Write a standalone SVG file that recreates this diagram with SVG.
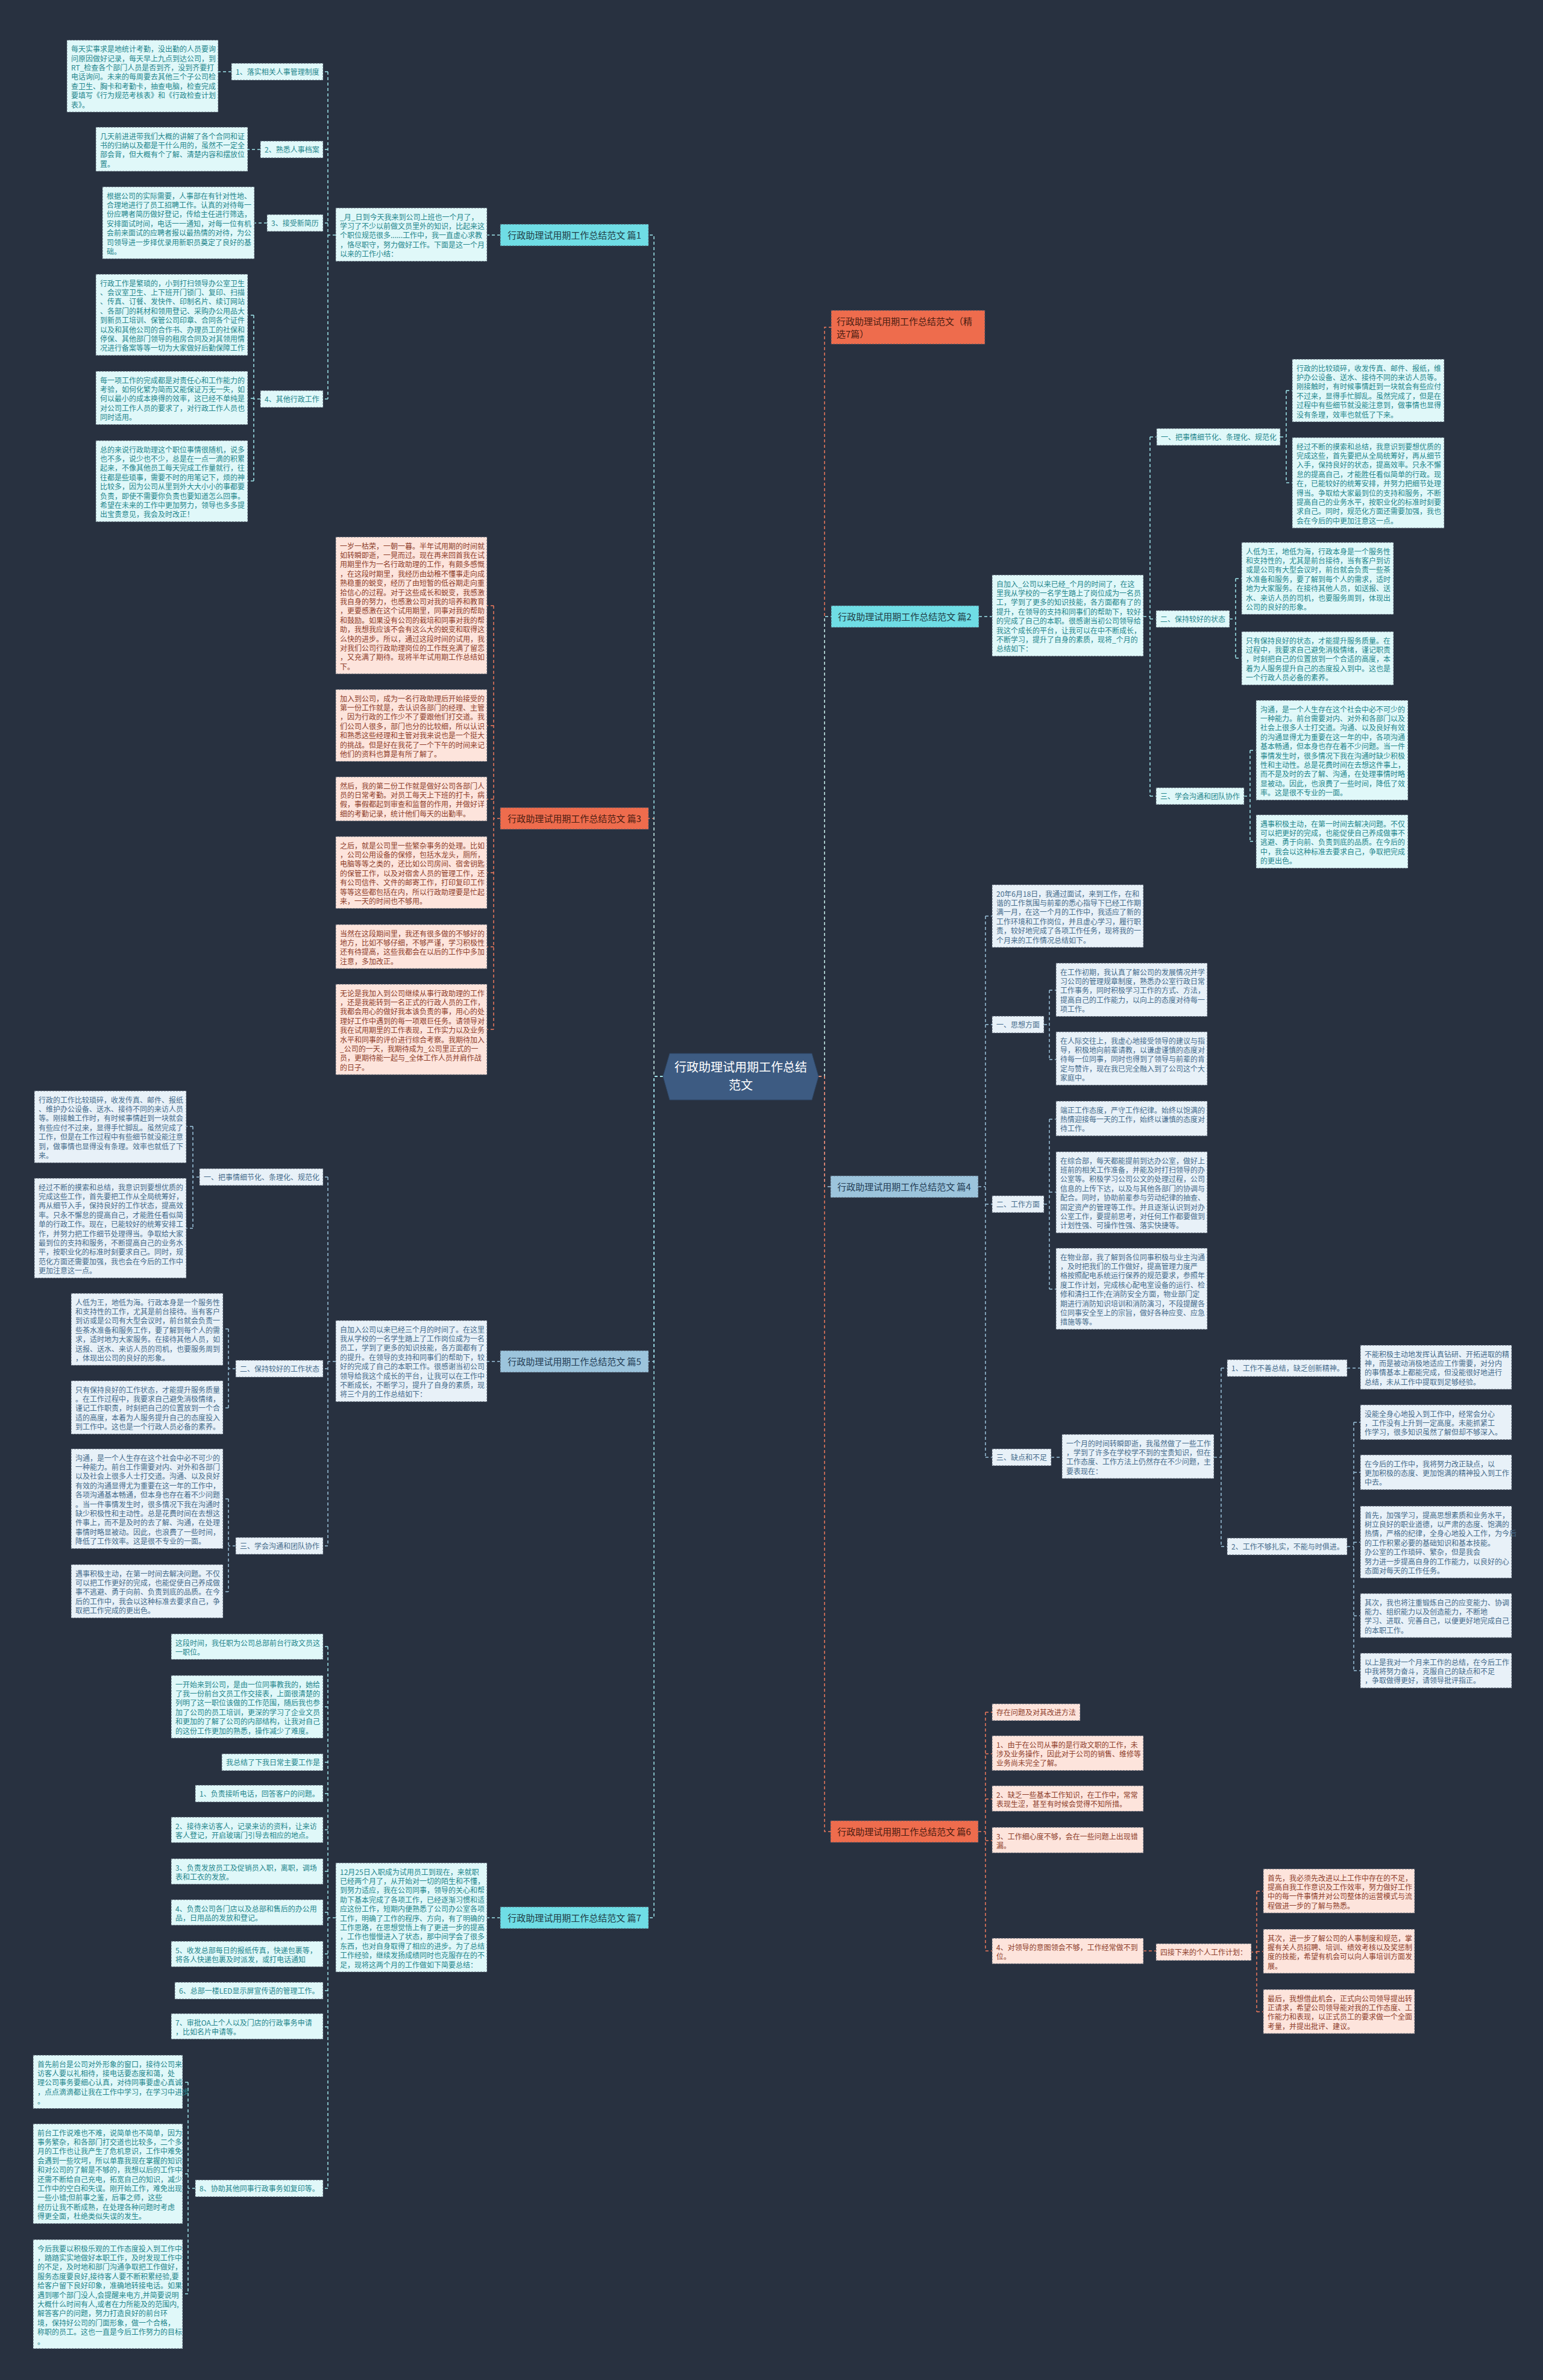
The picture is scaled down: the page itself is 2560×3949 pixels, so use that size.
<svg xmlns="http://www.w3.org/2000/svg" width="2560" height="3949" viewBox="0 0 2560 3949">
<style>
.t{font-family:"Noto Sans CJK SC","Noto Sans",sans-serif;font-size:12px}
.nt{font-family:"Noto Sans CJK SC","Noto Sans",sans-serif;font-size:15px}
.bx{stroke:#4d5766;stroke-width:1;stroke-dasharray:3 2}
.cb{fill:#e0f8f9}.ob{fill:#fde4dc}.sb{fill:#e8f1f8}
.ct{fill:#23868c}.ot{fill:#8e3d2a}.st{fill:#456b8b}
.cn{fill:#6fdde5}.on{fill:#ee6c4d}.sn{fill:#9cc4dc}
.cnt{fill:#1f3b44}.ont{fill:#4a1d12}.snt{fill:#243d55}
.l{fill:none;stroke-width:1.5;stroke-dasharray:5 4}
.lc{stroke:#9fe6ec}.lo{stroke:#ee7a5c}.ls{stroke:#9cc4dc}
</style>
<rect x="0" y="0" width="2560" height="3949" fill="#283140"/>

<g id="connectors">
<path class="l lo" d="M1100,1786 H1085 V1358 H1076 M830,1358 H819 M819,1005 V1708 M819,1005 H808 M819,1204 H808 M819,1326 H808 M819,1448 H808 M819,1571 H808 M819,1708 H808"/>
<path class="l ls" d="M1100,1786 H1085 V2259 H1076 M830,2259 H808 M557,2259 H544 M544,1953 V2565 M544,1953 H536 M544,2271 H536 M544,2565 H536 M331,1953 H320 M320,1869 V2038 M320,1869 H309 M320,2038 H309 M391,2271 H379 M379,2205 V2336 M379,2205 H370 M379,2336 H370 M391,2565 H379 M379,2487 V2641 M379,2487 H370 M379,2641 H370"/>
<path class="l lc" d="M1100,1786 H1085 V390 H1076 M830,390 H808 M557,390 H544 M544,119 V662 M544,119 H536 M544,248 H536 M544,370 H536 M544,662 H536 M384,119 H362 M432,248 H411 M443,370 H422 M432,662 H421 M421,523 V798 M421,523 H411 M421,661 H411 M421,798 H411"/>
<path class="l lc" d="M1100,1786 H1085 V3182 H1076 M830,3182 H808 M557,3182 H544 M544,2732 V3631 M544,2732 H536 M544,2832 H536 M544,2924 H536 M544,2976 H536 M544,3036 H536 M544,3105 H536 M544,3173 H536 M544,3242 H536 M544,3303 H536 M544,3363 H536 M544,3631 H536 M324,3631 H312 M312,3455 V3806 M312,3455 H303 M312,3607 H303 M312,3806 H303"/>
<path class="l lo" d="M1358,1786 H1368 V543 H1379"/>
<path class="l ls" d="M1358,1786 H1368 V1969 H1378 M1623,1969 H1635 M1635,1520 V2418 M1635,1520 H1646 M1635,1700 H1646 M1635,1998 H1646 M1635,2418 H1646 M1732,1700 H1741 M1741,1643 V1758 M1741,1643 H1752 M1741,1758 H1752 M1732,1998 H1741 M1741,1857 V2139 M1741,1857 H1752 M1741,1978 H1752 M1741,2139 H1752 M1744,2418 H1762 M2014,2418 H2026 M2026,2270 V2566 M2026,2270 H2036 M2026,2566 H2036 M2235,2270 H2257 M2235,2566 H2246 M2246,2360 V2772 M2246,2360 H2257 M2246,2443 H2257 M2246,2559 H2257 M2246,2681 H2257 M2246,2772 H2257"/>
<path class="l lc" d="M1358,1786 H1368 V1023 H1379 M1624,1023 H1646 M1897,1023 H1908 M1908,725 V1321 M1908,725 H1919 M1908,1027 H1918 M1908,1321 H1918 M2124,725 H2134 M2134,648 V801 M2134,648 H2144 M2134,801 H2144 M2040,1027 H2050 M2050,960 V1092 M2050,960 H2060 M2050,1092 H2060 M2064,1321 H2074 M2074,1245 V1396 M2074,1245 H2084 M2074,1396 H2084"/>
<path class="l lo" d="M1358,1786 H1368 V3039 H1378 M1623,3039 H1635 M1635,2841 V3237 M1635,2841 H1646 M1635,2910 H1646 M1635,2985 H1646 M1635,3054 H1646 M1635,3237 H1646 M1897,3237 H1918 M2074,3239 H2085 M2085,3138 V3338 M2085,3138 H2096 M2085,3238 H2096 M2085,3338 H2096"/>
</g>

<g id="center">
<polygon points="1111,1748 1347,1748 1358,1786 1347,1825 1111,1825 1100,1786" fill="#3d5b82" stroke="#2e4766" stroke-width="1"/>
<text x="1229" y="1778" text-anchor="middle" font-family="Noto Sans CJK SC, sans-serif" font-size="20" fill="#ffffff">行政助理试用期工作总结</text>
<text x="1229" y="1808" text-anchor="middle" font-family="Noto Sans CJK SC, sans-serif" font-size="20" fill="#ffffff">范文</text>
</g>

<g id="p1"><rect class="bx cn" x="830" y="372" width="246" height="36"/><text class="nt cnt" x="953" y="396" text-anchor="middle">行政助理试用期工作总结范文 篇1</text></g>
<g id="p1-intro"><rect class="bx cb" x="557" y="345" width="251" height="88.6"/><text class="t ct" x="564" y="364.6"><tspan x="564">_月_日到今天我来到公司上班也一个月了，</tspan><tspan x="564" dy="15.4">学习了不少以前做文员里外的知识，比起来这</tspan><tspan x="564" dy="15.4">个职位规范很多......工作中，我一直虚心求教</tspan><tspan x="564" dy="15.4">，恪尽职守，努力做好工作。下面是这一个月</tspan><tspan x="564" dy="15.4">以来的工作小结：</tspan></text></g>
<g id="p1-i1"><rect class="bx cb" x="384" y="105" width="152" height="28"/><text class="t ct" x="391" y="123.6">1、落实相关人事管理制度</text></g>
<g id="p1-i2"><rect class="bx cb" x="432" y="234" width="104" height="28"/><text class="t ct" x="439" y="252.6">2、熟悉人事档案</text></g>
<g id="p1-i3"><rect class="bx cb" x="443" y="356" width="93" height="28"/><text class="t ct" x="450" y="374.6">3、接受新简历</text></g>
<g id="p1-i4"><rect class="bx cb" x="432" y="648" width="104" height="28"/><text class="t ct" x="439" y="666.6">4、其他行政工作</text></g>
<g id="p1-l1"><rect class="bx cb" x="111" y="66.6" width="251" height="119.4"/><text class="t ct" x="118" y="86.2"><tspan x="118">每天实事求是地统计考勤，没出勤的人员要询</tspan><tspan x="118" dy="15.4">问原因做好记录，每天早上九点到达公司，到</tspan><tspan x="118" dy="15.4">RT_检查各个部门人员是否到齐，没到齐要打</tspan><tspan x="118" dy="15.4">电话询问。未来的每周要去其他三个子公司检</tspan><tspan x="118" dy="15.4">查卫生、胸卡和考勤卡，抽查电脑，检查完成</tspan><tspan x="118" dy="15.4">要填写《行为规范考核表》和《行政检查计划</tspan><tspan x="118" dy="15.4">表》。</tspan></text></g>
<g id="p1-l2"><rect class="bx cb" x="159" y="211" width="252" height="73.2"/><text class="t ct" x="166" y="230.6"><tspan x="166">几天前进进带我们大概的讲解了各个合同和证</tspan><tspan x="166" dy="15.4">书的归纳以及都是干什么用的，虽然不一定全</tspan><tspan x="166" dy="15.4">部会背，但大概有个了解、清楚内容和摆放位</tspan><tspan x="166" dy="15.4">置。</tspan></text></g>
<g id="p1-l3"><rect class="bx cb" x="170" y="310" width="252" height="119.4"/><text class="t ct" x="177" y="329.6"><tspan x="177">根据公司的实际需要，人事部在有针对性地、</tspan><tspan x="177" dy="15.4">合理地进行了员工招聘工作。认真的对待每一</tspan><tspan x="177" dy="15.4">份应聘者简历做好登记，传给主任进行筛选，</tspan><tspan x="177" dy="15.4">安排面试时间，电话一一通知，对每一位有机</tspan><tspan x="177" dy="15.4">会前来面试的应聘者报以最热情的对待，为公</tspan><tspan x="177" dy="15.4">司领导进一步择优录用新职员奠定了良好的基</tspan><tspan x="177" dy="15.4">础。</tspan></text></g>
<g id="p1-l4a"><rect class="bx cb" x="159" y="455" width="252" height="134.8"/><text class="t ct" x="166" y="474.6"><tspan x="166">行政工作是繁琐的，小到打扫领导办公室卫生</tspan><tspan x="166" dy="15.4">、会议室卫生、上下班开门锁门、复印、扫描</tspan><tspan x="166" dy="15.4">、传真、订餐、发快件、印制名片、续订网站</tspan><tspan x="166" dy="15.4">、各部门的耗材和领用登记、采购办公用品大</tspan><tspan x="166" dy="15.4">到新员工培训、保管公司印章、合同各个证件</tspan><tspan x="166" dy="15.4">以及和其他公司的合作书、办理员工的社保和</tspan><tspan x="166" dy="15.4">停保、其他部门领导的租房合同及对其领用情</tspan><tspan x="166" dy="15.4">况进行备案等等一切为大家做好后勤保障工作</tspan></text></g>
<g id="p1-l4b"><rect class="bx cb" x="159" y="616" width="252" height="88.6"/><text class="t ct" x="166" y="635.6"><tspan x="166">每一项工作的完成都是对责任心和工作能力的</tspan><tspan x="166" dy="15.4">考验，如何化繁为简而又能保证万无一失，如</tspan><tspan x="166" dy="15.4">何以最小的成本换得的效率，这已经不单纯是</tspan><tspan x="166" dy="15.4">对公司工作人员的要求了，对行政工作人员也</tspan><tspan x="166" dy="15.4">同时适用。</tspan></text></g>
<g id="p1-l4c"><rect class="bx cb" x="159" y="731" width="252" height="134.8"/><text class="t ct" x="166" y="750.6"><tspan x="166">总的来说行政助理这个职位事情很随机，说多</tspan><tspan x="166" dy="15.4">也不多，说少也不少，总是在一点一滴的积累</tspan><tspan x="166" dy="15.4">起来，不像其他员工每天完成工作量就行，往</tspan><tspan x="166" dy="15.4">往都是些琐事，需要不时的用笔记下，烦的神</tspan><tspan x="166" dy="15.4">比较多，因为公司从里到外大大小小的事都要</tspan><tspan x="166" dy="15.4">负责，即使不需要你负责也要知道怎么回事。</tspan><tspan x="166" dy="15.4">希望在未来的工作中更加努力，领导也多多提</tspan><tspan x="166" dy="15.4">出宝贵意见，我会及时改正！</tspan></text></g>

<g id="p3"><rect class="bx on" x="830" y="1340" width="246" height="36"/><text class="nt ont" x="953" y="1364" text-anchor="middle">行政助理试用期工作总结范文 篇3</text></g>
<g id="p3-a"><rect class="bx ob" x="557" y="891" width="251" height="227.2"/><text class="t ot" x="564" y="910.6"><tspan x="564">一岁一枯荣，一朝一暮。半年试用期的时间就</tspan><tspan x="564" dy="15.4">如转瞬即逝，一晃而过。现在再来回首我在试</tspan><tspan x="564" dy="15.4">用期里作为一名行政助理的工作，有颇多感慨</tspan><tspan x="564" dy="15.4">，在这段时期里，我经历由幼稚不懂事走向成</tspan><tspan x="564" dy="15.4">熟稳重的蜕变，经历了由短暂的低谷期走向重</tspan><tspan x="564" dy="15.4">拾信心的过程。对于这些成长和蜕变，我感激</tspan><tspan x="564" dy="15.4">我自身的努力，也感激公司对我的培养和教育</tspan><tspan x="564" dy="15.4">，更要感激在这个试用期里，同事对我的帮助</tspan><tspan x="564" dy="15.4">和鼓励。如果没有公司的栽培和同事对我的帮</tspan><tspan x="564" dy="15.4">助，我想我应该不会有这么大的蜕变和取得这</tspan><tspan x="564" dy="15.4">么快的进步。所以，通过这段时间的试用，我</tspan><tspan x="564" dy="15.4">对我们公司行政助理岗位的工作既充满了留恋</tspan><tspan x="564" dy="15.4">，又充满了期待。现将半年试用期工作总结如</tspan><tspan x="564" dy="15.4">下。</tspan></text></g>
<g id="p3-b"><rect class="bx ob" x="557" y="1144" width="251" height="119.4"/><text class="t ot" x="564" y="1163.6"><tspan x="564">加入到公司，成为一名行政助理后开始接受的</tspan><tspan x="564" dy="15.4">第一份工作就是，去认识各部门的经理、主管</tspan><tspan x="564" dy="15.4">，因为行政的工作少不了要跟他们打交道。我</tspan><tspan x="564" dy="15.4">们公司人很多，部门也分的比较细，所以认识</tspan><tspan x="564" dy="15.4">和熟悉这些经理和主管对我来说也是一个挺大</tspan><tspan x="564" dy="15.4">的挑战。但是好在我花了一个下午的时间来记</tspan><tspan x="564" dy="15.4">他们的资料也算是有所了解了。</tspan></text></g>
<g id="p3-c"><rect class="bx ob" x="557" y="1289" width="251" height="73.2"/><text class="t ot" x="564" y="1308.6"><tspan x="564">然后，我的第二份工作就是做好公司各部门人</tspan><tspan x="564" dy="15.4">员的日常考勤。对员工每天上下班的打卡，病</tspan><tspan x="564" dy="15.4">假，事假都起到审查和监督的作用，并做好详</tspan><tspan x="564" dy="15.4">细的考勤记录，统计他们每天的出勤率。</tspan></text></g>
<g id="p3-d"><rect class="bx ob" x="557" y="1388" width="251" height="119.4"/><text class="t ot" x="564" y="1407.6"><tspan x="564">之后，就是公司里一些繁杂事务的处理。比如</tspan><tspan x="564" dy="15.4">，公司公用设备的保修，包括水龙头，厕所，</tspan><tspan x="564" dy="15.4">电脑等等之类的，还比如公司房间、宿舍钥匙</tspan><tspan x="564" dy="15.4">的保管工作，以及对宿舍人员的管理工作，还</tspan><tspan x="564" dy="15.4">有公司信件、文件的邮寄工作，打印复印工作</tspan><tspan x="564" dy="15.4">等等这些都包括在内，所以行政助理要是忙起</tspan><tspan x="564" dy="15.4">来，一天的时间也不够用。</tspan></text></g>
<g id="p3-e"><rect class="bx ob" x="557" y="1534" width="251" height="73.2"/><text class="t ot" x="564" y="1553.6"><tspan x="564">当然在这段期间里，我还有很多做的不够好的</tspan><tspan x="564" dy="15.4">地方，比如不够仔细，不够严谨，学习积极性</tspan><tspan x="564" dy="15.4">还有待提高，这些我都会在以后的工作中多加</tspan><tspan x="564" dy="15.4">注意，多加改正。</tspan></text></g>
<g id="p3-f"><rect class="bx ob" x="557" y="1633" width="251" height="150.2"/><text class="t ot" x="564" y="1652.6"><tspan x="564">无论是我加入到公司继续从事行政助理的工作</tspan><tspan x="564" dy="15.4">，还是我能转到一名正式的行政人员的工作，</tspan><tspan x="564" dy="15.4">我都会用心的做好我本该负责的事，用心的处</tspan><tspan x="564" dy="15.4">理好工作中遇到的每一项艰巨任务。请领导对</tspan><tspan x="564" dy="15.4">我在试用期里的工作表现，工作实力以及业务</tspan><tspan x="564" dy="15.4">水平和同事的评价进行综合考察。我期待加入</tspan><tspan x="564" dy="15.4">_公司的一天，我期待成为_公司里正式的一</tspan><tspan x="564" dy="15.4">员，更期待能一起与_全体工作人员并肩作战</tspan><tspan x="564" dy="15.4">的日子。</tspan></text></g>

<g id="p5"><rect class="bx sn" x="830" y="2241" width="246" height="36"/><text class="nt snt" x="953" y="2265" text-anchor="middle">行政助理试用期工作总结范文 篇5</text></g>
<g id="p5-intro"><rect class="bx sb" x="557" y="2191" width="251" height="134.8"/><text class="t st" x="564" y="2210.6"><tspan x="564">自加入公司以来已经三个月的时间了。在这里</tspan><tspan x="564" dy="15.4">我从学校的一名学生踏上了工作岗位成为一名</tspan><tspan x="564" dy="15.4">员工，学到了更多的知识技能，各方面都有了</tspan><tspan x="564" dy="15.4">的提升。在领导的支持和同事们的帮助下，较</tspan><tspan x="564" dy="15.4">好的完成了自己的本职工作。很感谢当初公司</tspan><tspan x="564" dy="15.4">领导给我这个成长的平台，让我可以在工作中</tspan><tspan x="564" dy="15.4">不断成长，不断学习，提升了自身的素质，现</tspan><tspan x="564" dy="15.4">将三个月的工作总结如下：</tspan></text></g>
<g id="p5-i1"><rect class="bx sb" x="331" y="1939" width="205" height="28"/><text class="t st" x="338" y="1957.6">一、把事情细节化、条理化、规范化</text></g>
<g id="p5-i2"><rect class="bx sb" x="391" y="2257" width="145" height="28"/><text class="t st" x="398" y="2275.6">二、保持较好的工作状态</text></g>
<g id="p5-i3"><rect class="bx sb" x="391" y="2551" width="145" height="28"/><text class="t st" x="398" y="2569.6">三、学会沟通和团队协作</text></g>
<g id="p5-1a"><rect class="bx sb" x="57" y="1810" width="252" height="119.4"/><text class="t st" x="64" y="1829.6"><tspan x="64">行政的工作比较琐碎，收发传真、邮件、报纸</tspan><tspan x="64" dy="15.4">、维护办公设备、送水、接待不同的来访人员</tspan><tspan x="64" dy="15.4">等。刚接触工作时，有时候事情赶到一块就会</tspan><tspan x="64" dy="15.4">有些应付不过来，显得手忙脚乱。虽然完成了</tspan><tspan x="64" dy="15.4">工作，但是在工作过程中有些细节就没能注意</tspan><tspan x="64" dy="15.4">到，做事情也显得没有条理。效率也就低了下</tspan><tspan x="64" dy="15.4">来。</tspan></text></g>
<g id="p5-1b"><rect class="bx sb" x="57" y="1955" width="252" height="165.6"/><text class="t st" x="64" y="1974.6"><tspan x="64">经过不断的摸索和总结，我意识到要想优质的</tspan><tspan x="64" dy="15.4">完成这些工作，首先要把工作从全局统筹好，</tspan><tspan x="64" dy="15.4">再从细节入手，保持良好的工作状态，提高效</tspan><tspan x="64" dy="15.4">率。只永不懈怠的提高自己，才能胜任看似简</tspan><tspan x="64" dy="15.4">单的行政工作。现在，已能较好的统筹安排工</tspan><tspan x="64" dy="15.4">作，并努力把工作细节处理得当。争取给大家</tspan><tspan x="64" dy="15.4">最到位的支持和服务，不断提高自己的业务水</tspan><tspan x="64" dy="15.4">平，按职业化的标准时刻要求自己。同时，规</tspan><tspan x="64" dy="15.4">范化方面还需要加强，我也会在今后的工作中</tspan><tspan x="64" dy="15.4">更加注意这一点。</tspan></text></g>
<g id="p5-2a"><rect class="bx sb" x="118" y="2146" width="252" height="119.4"/><text class="t st" x="125" y="2165.6"><tspan x="125">人低为王，地低为海。行政本身是一个服务性</tspan><tspan x="125" dy="15.4">和支持性的工作，尤其是前台接待。当有客户</tspan><tspan x="125" dy="15.4">到访或是公司有大型会议时，前台就会负责一</tspan><tspan x="125" dy="15.4">些茶水准备和服务工作，要了解到每个人的需</tspan><tspan x="125" dy="15.4">求，适时地为大家服务。在接待其他人员，如</tspan><tspan x="125" dy="15.4">送报、送水、来访人员的司机，也要服务周到</tspan><tspan x="125" dy="15.4">，体现出公司的良好的形象。</tspan></text></g>
<g id="p5-2b"><rect class="bx sb" x="118" y="2291" width="252" height="88.6"/><text class="t st" x="125" y="2310.6"><tspan x="125">只有保持良好的工作状态，才能提升服务质量</tspan><tspan x="125" dy="15.4">。在工作过程中，我要求自己避免消极情绪，</tspan><tspan x="125" dy="15.4">谨记工作职责，时刻把自己的位置放到一个合</tspan><tspan x="125" dy="15.4">适的高度，本着为人服务提升自己的态度投入</tspan><tspan x="125" dy="15.4">到工作中。这也是一个行政人员必备的素养。</tspan></text></g>
<g id="p5-3a"><rect class="bx sb" x="118" y="2404" width="252" height="165.6"/><text class="t st" x="125" y="2423.6"><tspan x="125">沟通，是一个人生存在这个社会中必不可少的</tspan><tspan x="125" dy="15.4">一种能力。前台工作需要对内、对外和各部门</tspan><tspan x="125" dy="15.4">以及社会上很多人士打交道。沟通、以及良好</tspan><tspan x="125" dy="15.4">有效的沟通显得尤为重要在这一年的工作中，</tspan><tspan x="125" dy="15.4">各项沟通基本畅通，但本身也存在着不少问题</tspan><tspan x="125" dy="15.4">。当一件事情发生时，很多情况下我在沟通时</tspan><tspan x="125" dy="15.4">缺少积极性和主动性。总是花费时间在去想这</tspan><tspan x="125" dy="15.4">件事上，而不是及时的去了解、沟通，在处理</tspan><tspan x="125" dy="15.4">事情时略显被动。因此，也浪费了一些时间，</tspan><tspan x="125" dy="15.4">降低了工作效率。这是很不专业的一面。</tspan></text></g>
<g id="p5-3b"><rect class="bx sb" x="118" y="2596" width="252" height="88.6"/><text class="t st" x="125" y="2615.6"><tspan x="125">遇事积极主动，在第一时间去解决问题。不仅</tspan><tspan x="125" dy="15.4">可以把工作更好的完成，也能促使自己养成做</tspan><tspan x="125" dy="15.4">事不逃避、勇于向前、负责到底的品质。在今</tspan><tspan x="125" dy="15.4">后的工作中，我会以这种标准去要求自己，争</tspan><tspan x="125" dy="15.4">取把工作完成的更出色。</tspan></text></g>

<g id="p7"><rect class="bx cn" x="830" y="3164" width="246" height="36"/><text class="nt cnt" x="953" y="3188" text-anchor="middle">行政助理试用期工作总结范文 篇7</text></g>
<g id="p7-intro"><rect class="bx cb" x="557" y="3091" width="251" height="181"/><text class="t ct" x="564" y="3110.6"><tspan x="564">12月25日入职成为试用员工到现在，来就职</tspan><tspan x="564" dy="15.4">已经两个月了，从开始对一切的陌生和不懂，</tspan><tspan x="564" dy="15.4">到努力适应，我在公司同事，领导的关心和帮</tspan><tspan x="564" dy="15.4">助下基本完成了各项工作，已经逐渐习惯和适</tspan><tspan x="564" dy="15.4">应这份工作，短期内便熟悉了公司办公室各项</tspan><tspan x="564" dy="15.4">工作，明确了工作的程序、方向，有了明确的</tspan><tspan x="564" dy="15.4">工作思路，在思想觉悟上有了更进一步的提高</tspan><tspan x="564" dy="15.4">，工作也慢慢进入了状态，那中间学会了很多</tspan><tspan x="564" dy="15.4">东西，也对自身取得了相应的进步。为了总结</tspan><tspan x="564" dy="15.4">工作经验，继续发扬成绩同时也克服存在的不</tspan><tspan x="564" dy="15.4">足，现将这两个月的工作做如下简要总结：</tspan></text></g>
<g id="p7-i1"><rect class="bx cb" x="284" y="2711" width="252" height="42.4"/><text class="t ct" x="291" y="2730.6"><tspan x="291">这段时间，我任职为公司总部前台行政文员这</tspan><tspan x="291" dy="15.4">一职位。</tspan></text></g>
<g id="p7-i2"><rect class="bx cb" x="284" y="2780" width="252" height="104"/><text class="t ct" x="291" y="2799.6"><tspan x="291">一开始来到公司，是由一位同事教我的，她给</tspan><tspan x="291" dy="15.4">了我一份前台文员工作交接表，上面很清楚的</tspan><tspan x="291" dy="15.4">列明了这一职位该做的工作范围，随后我也参</tspan><tspan x="291" dy="15.4">加了公司的员工培训，更深的学习了企业文员</tspan><tspan x="291" dy="15.4">和更加的了解了公司的内部结构，让我对自己</tspan><tspan x="291" dy="15.4">的这份工作更加的熟悉，操作减少了难度。</tspan></text></g>
<g id="p7-i3"><rect class="bx cb" x="368" y="2910" width="168" height="28"/><text class="t ct" x="375" y="2928.6">我总结了下我日常主要工作是</text></g>
<g id="p7-i4"><rect class="bx cb" x="324" y="2962" width="212" height="28"/><text class="t ct" x="331" y="2980.6">1、负责接听电话，回答客户的问题。</text></g>
<g id="p7-i5"><rect class="bx cb" x="284" y="3015" width="252" height="42.4"/><text class="t ct" x="291" y="3034.6"><tspan x="291">2、接待来访客人，记录来访的资料，让来访</tspan><tspan x="291" dy="15.4">客人登记，开启玻璃门引导去相应的地点。</tspan></text></g>
<g id="p7-i6"><rect class="bx cb" x="284" y="3084" width="252" height="42.4"/><text class="t ct" x="291" y="3103.6"><tspan x="291">3、负责发放员工及促销员入职，离职，调场</tspan><tspan x="291" dy="15.4">表和工衣的发放。</tspan></text></g>
<g id="p7-i7"><rect class="bx cb" x="284" y="3152" width="252" height="42.4"/><text class="t ct" x="291" y="3171.6"><tspan x="291">4、负责公司各门店以及总部和售后的办公用</tspan><tspan x="291" dy="15.4">品，日用品的发放和登记。</tspan></text></g>
<g id="p7-i8"><rect class="bx cb" x="284" y="3221" width="252" height="42.4"/><text class="t ct" x="291" y="3240.6"><tspan x="291">5、收发总部每日的报纸传真，快递包裹等，</tspan><tspan x="291" dy="15.4">将各人快递包裹及时派发，或打电话通知</tspan></text></g>
<g id="p7-i9"><rect class="bx cb" x="290" y="3289" width="246" height="28"/><text class="t ct" x="297" y="3307.6">6、总部一楼LED显示屏宣传语的管理工作。</text></g>
<g id="p7-i10"><rect class="bx cb" x="284" y="3341" width="252" height="42.4"/><text class="t ct" x="291" y="3360.6"><tspan x="291">7、审批OA上个人以及门店的行政事务申请</tspan><tspan x="291" dy="15.4">，比如名片申请等。</tspan></text></g>
<g id="p7-i11"><rect class="bx cb" x="324" y="3617" width="212" height="28"/><text class="t ct" x="331" y="3635.6">8、协助其他同事行政事务如复印等。</text></g>
<g id="p7-l1"><rect class="bx cb" x="55" y="3410" width="248" height="88.6"/><text class="t ct" x="62" y="3429.6"><tspan x="62">首先前台是公司对外形象的窗口，接待公司来</tspan><tspan x="62" dy="15.4">访客人要以礼相待，接电话要态度和蔼，处</tspan><tspan x="62" dy="15.4">理公司事务要细心认真，对待同事要虚心真诚</tspan><tspan x="62" dy="15.4">，点点滴滴都让我在工作中学习，在学习中进步</tspan><tspan x="62" dy="15.4">。</tspan></text></g>
<g id="p7-l2"><rect class="bx cb" x="55" y="3524" width="248" height="165.6"/><text class="t ct" x="62" y="3543.6"><tspan x="62">前台工作说难也不难，说简单也不简单，因为</tspan><tspan x="62" dy="15.4">事务繁杂，和各部门打交道也比较多，二个多</tspan><tspan x="62" dy="15.4">月的工作也让我产生了危机意识，工作中难免</tspan><tspan x="62" dy="15.4">会遇到一些坎坷，所以单靠我现在掌握的知识</tspan><tspan x="62" dy="15.4">和对公司的了解是不够的，我想以后的工作中</tspan><tspan x="62" dy="15.4">还需不断给自己充电，拓宽自己的知识，减少</tspan><tspan x="62" dy="15.4">工作中的空白和失误。刚开始工作，难免出现</tspan><tspan x="62" dy="15.4">一些小错;但前事之鉴，后事之师，这些</tspan><tspan x="62" dy="15.4">经历让我不断成熟，在处理各种问题时考虑</tspan><tspan x="62" dy="15.4">得更全面，杜绝类似失误的发生。</tspan></text></g>
<g id="p7-l3"><rect class="bx cb" x="55" y="3716" width="248" height="181"/><text class="t ct" x="62" y="3735.6"><tspan x="62">今后我要以积极乐观的工作态度投入到工作中</tspan><tspan x="62" dy="15.4">，踏踏实实地做好本职工作，及时发现工作中</tspan><tspan x="62" dy="15.4">的不足，及时地和部门沟通争取把工作做好，</tspan><tspan x="62" dy="15.4">服务态度要良好,接待客人要不断积累经验,要</tspan><tspan x="62" dy="15.4">给客户留下良好印象，准确地转接电话。如果</tspan><tspan x="62" dy="15.4">遇到哪个部门没人,会提醒来电方,并简要说明</tspan><tspan x="62" dy="15.4">大概什么时间有人,或者在力所能及的范围内,</tspan><tspan x="62" dy="15.4">解答客户的问题，努力打造良好的前台环</tspan><tspan x="62" dy="15.4">境，保持好公司的门面形象，做一个合格，</tspan><tspan x="62" dy="15.4">称职的员工。这也一直是今后工作努力的目标</tspan><tspan x="62" dy="15.4">。</tspan></text></g>

<g id="p0"><rect class="bx on" x="1379" y="515" width="255" height="56"/><text class="nt ont" x="1388" y="539"><tspan x="1388">行政助理试用期工作总结范文（精</tspan><tspan x="1388" dy="21">选7篇）</tspan></text></g>

<g id="p2"><rect class="bx cn" x="1379" y="1005" width="245" height="36"/><text class="nt cnt" x="1501" y="1029" text-anchor="middle">行政助理试用期工作总结范文 篇2</text></g>
<g id="p2-intro"><rect class="bx cb" x="1646" y="954" width="251" height="134.8"/><text class="t ct" x="1653" y="973.6"><tspan x="1653">自加入_公司以来已经_个月的时间了，在这</tspan><tspan x="1653" dy="15.4">里我从学校的一名学生踏上了岗位成为一名员</tspan><tspan x="1653" dy="15.4">工，学到了更多的知识技能，各方面都有了的</tspan><tspan x="1653" dy="15.4">提升，在领导的支持和同事们的帮助下，较好</tspan><tspan x="1653" dy="15.4">的完成了自己的本职。很感谢当初公司领导给</tspan><tspan x="1653" dy="15.4">我这个成长的平台，让我可以在中不断成长，</tspan><tspan x="1653" dy="15.4">不断学习，提升了自身的素质，现将_个月的</tspan><tspan x="1653" dy="15.4">总结如下：</tspan></text></g>
<g id="p2-i1"><rect class="bx cb" x="1919" y="711" width="205" height="28"/><text class="t ct" x="1926" y="729.6">一、把事情细节化、条理化、规范化</text></g>
<g id="p2-i2"><rect class="bx cb" x="1918" y="1013" width="122" height="28"/><text class="t ct" x="1925" y="1031.6">二、保持较好的状态</text></g>
<g id="p2-i3"><rect class="bx cb" x="1918" y="1307" width="146" height="28"/><text class="t ct" x="1925" y="1325.6">三、学会沟通和团队协作</text></g>
<g id="p2-1a"><rect class="bx cb" x="2144" y="596" width="252" height="104"/><text class="t ct" x="2151" y="615.6"><tspan x="2151">行政的比较琐碎，收发传真、邮件、报纸，维</tspan><tspan x="2151" dy="15.4">护办公设备、送水、接待不同的来访人员等。</tspan><tspan x="2151" dy="15.4">刚接触时，有时候事情赶到一块就会有些应付</tspan><tspan x="2151" dy="15.4">不过来，显得手忙脚乱。虽然完成了，但是在</tspan><tspan x="2151" dy="15.4">过程中有些细节就没能注意到，做事情也显得</tspan><tspan x="2151" dy="15.4">没有条理，效率也就低了下来。</tspan></text></g>
<g id="p2-1b"><rect class="bx cb" x="2144" y="726" width="252" height="150.2"/><text class="t ct" x="2151" y="745.6"><tspan x="2151">经过不断的摸索和总结，我意识到要想优质的</tspan><tspan x="2151" dy="15.4">完成这些，首先要把从全局统筹好，再从细节</tspan><tspan x="2151" dy="15.4">入手，保持良好的状态，提高效率。只永不懈</tspan><tspan x="2151" dy="15.4">怠的提高自己，才能胜任看似简单的行政。现</tspan><tspan x="2151" dy="15.4">在，已能较好的统筹安排，并努力把细节处理</tspan><tspan x="2151" dy="15.4">得当。争取给大家最到位的支持和服务，不断</tspan><tspan x="2151" dy="15.4">提高自己的业务水平，按职业化的标准时刻要</tspan><tspan x="2151" dy="15.4">求自己。同时，规范化方面还需要加强，我也</tspan><tspan x="2151" dy="15.4">会在今后的中更加注意这一点。</tspan></text></g>
<g id="p2-2a"><rect class="bx cb" x="2060" y="900" width="252" height="119.4"/><text class="t ct" x="2067" y="919.6"><tspan x="2067">人低为王，地低为海，行政本身是一个服务性</tspan><tspan x="2067" dy="15.4">和支持性的，尤其是前台接待，当有客户到访</tspan><tspan x="2067" dy="15.4">或是公司有大型会议时，前台就会负责一些茶</tspan><tspan x="2067" dy="15.4">水准备和服务，要了解到每个人的需求，适时</tspan><tspan x="2067" dy="15.4">地为大家服务。在接待其他人员，如送报、送</tspan><tspan x="2067" dy="15.4">水、来访人员的司机，也要服务周到，体现出</tspan><tspan x="2067" dy="15.4">公司的良好的形象。</tspan></text></g>
<g id="p2-2b"><rect class="bx cb" x="2060" y="1048" width="252" height="88.6"/><text class="t ct" x="2067" y="1067.6"><tspan x="2067">只有保持良好的状态，才能提升服务质量。在</tspan><tspan x="2067" dy="15.4">过程中，我要求自己避免消极情绪，谨记职责</tspan><tspan x="2067" dy="15.4">，时刻把自己的位置放到一个合适的高度，本</tspan><tspan x="2067" dy="15.4">着为人服务提升自己的态度投入到中。这也是</tspan><tspan x="2067" dy="15.4">一个行政人员必备的素养。</tspan></text></g>
<g id="p2-3a"><rect class="bx cb" x="2084" y="1162" width="252" height="165.6"/><text class="t ct" x="2091" y="1181.6"><tspan x="2091">沟通，是一个人生存在这个社会中必不可少的</tspan><tspan x="2091" dy="15.4">一种能力。前台需要对内、对外和各部门以及</tspan><tspan x="2091" dy="15.4">社会上很多人士打交道。沟通、以及良好有效</tspan><tspan x="2091" dy="15.4">的沟通显得尤为重要在这一年的中，各项沟通</tspan><tspan x="2091" dy="15.4">基本畅通，但本身也存在着不少问题。当一件</tspan><tspan x="2091" dy="15.4">事情发生时，很多情况下我在沟通时缺少积极</tspan><tspan x="2091" dy="15.4">性和主动性。总是花费时间在去想这件事上，</tspan><tspan x="2091" dy="15.4">而不是及时的去了解、沟通，在处理事情时略</tspan><tspan x="2091" dy="15.4">显被动。因此，也浪费了一些时间，降低了效</tspan><tspan x="2091" dy="15.4">率。这是很不专业的一面。</tspan></text></g>
<g id="p2-3b"><rect class="bx cb" x="2084" y="1352" width="252" height="88.6"/><text class="t ct" x="2091" y="1371.6"><tspan x="2091">遇事积极主动，在第一时间去解决问题。不仅</tspan><tspan x="2091" dy="15.4">可以把更好的完成，也能促使自己养成做事不</tspan><tspan x="2091" dy="15.4">逃避、勇于向前、负责到底的品质。在今后的</tspan><tspan x="2091" dy="15.4">中，我会以这种标准去要求自己，争取把完成</tspan><tspan x="2091" dy="15.4">的更出色。</tspan></text></g>

<g id="p4"><rect class="bx sn" x="1378" y="1951" width="245" height="36"/><text class="nt snt" x="1500" y="1975" text-anchor="middle">行政助理试用期工作总结范文 篇4</text></g>
<g id="p4-intro"><rect class="bx sb" x="1646" y="1468" width="251" height="104"/><text class="t st" x="1653" y="1487.6"><tspan x="1653">20年6月18日，我通过面试，来到工作，在和</tspan><tspan x="1653" dy="15.4">谐的工作氛围与前辈的悉心指导下已经工作期</tspan><tspan x="1653" dy="15.4">满一月，在这一个月的工作中，我适应了新的</tspan><tspan x="1653" dy="15.4">工作环境和工作岗位，并且虚心学习，履行职</tspan><tspan x="1653" dy="15.4">责，较好地完成了各项工作任务，现将我的一</tspan><tspan x="1653" dy="15.4">个月来的工作情况总结如下。</tspan></text></g>
<g id="p4-i1"><rect class="bx sb" x="1646" y="1686" width="86" height="28"/><text class="t st" x="1653" y="1704.6">一、思想方面</text></g>
<g id="p4-i2"><rect class="bx sb" x="1646" y="1984" width="86" height="28"/><text class="t st" x="1653" y="2002.6">二、工作方面</text></g>
<g id="p4-i3"><rect class="bx sb" x="1646" y="2404" width="98" height="28"/><text class="t st" x="1653" y="2422.6">三、缺点和不足</text></g>
<g id="p4-1a"><rect class="bx sb" x="1752" y="1598" width="251" height="88.6"/><text class="t st" x="1759" y="1617.6"><tspan x="1759">在工作初期，我认真了解公司的发展情况并学</tspan><tspan x="1759" dy="15.4">习公司的管理规章制度，熟悉办公室行政日常</tspan><tspan x="1759" dy="15.4">工作事务，同时积极学习工作的方式、方法，</tspan><tspan x="1759" dy="15.4">提高自己的工作能力，以向上的态度对待每一</tspan><tspan x="1759" dy="15.4">项工作。</tspan></text></g>
<g id="p4-1b"><rect class="bx sb" x="1752" y="1712" width="251" height="88.6"/><text class="t st" x="1759" y="1731.6"><tspan x="1759">在人际交往上，我虚心地接受领导的建议与指</tspan><tspan x="1759" dy="15.4">导，积极地向前辈请教，以谦虚谨慎的态度对</tspan><tspan x="1759" dy="15.4">待每一位同事，同时也得到了领导与前辈的肯</tspan><tspan x="1759" dy="15.4">定与赞许，现在我已完全融入到了公司这个大</tspan><tspan x="1759" dy="15.4">家庭中。</tspan></text></g>
<g id="p4-2a"><rect class="bx sb" x="1752" y="1827" width="251" height="57.8"/><text class="t st" x="1759" y="1846.6"><tspan x="1759">端正工作态度，严守工作纪律。始终以饱满的</tspan><tspan x="1759" dy="15.4">热情迎接每一天的工作，始终以谦慎的态度对</tspan><tspan x="1759" dy="15.4">待工作。</tspan></text></g>
<g id="p4-2b"><rect class="bx sb" x="1752" y="1911" width="251" height="134.8"/><text class="t st" x="1759" y="1930.6"><tspan x="1759">在综合部，每天都能提前到达办公室，做好上</tspan><tspan x="1759" dy="15.4">班前的相关工作准备，并能及时打扫领导的办</tspan><tspan x="1759" dy="15.4">公室等。积极学习公司公文的处理过程，公司</tspan><tspan x="1759" dy="15.4">信息的上传下达，以及与其他各部门的协调与</tspan><tspan x="1759" dy="15.4">配合。同时，协助前辈参与劳动纪律的抽查、</tspan><tspan x="1759" dy="15.4">固定资产的管理等工作。并且逐渐认识到对办</tspan><tspan x="1759" dy="15.4">公室工作，要提前思考，对任何工作都要做到</tspan><tspan x="1759" dy="15.4">计划性强、可操作性强、落实快捷等。</tspan></text></g>
<g id="p4-2c"><rect class="bx sb" x="1752" y="2071" width="251" height="134.8"/><text class="t st" x="1759" y="2090.6"><tspan x="1759">在物业部，我了解到各位同事积极与业主沟通</tspan><tspan x="1759" dy="15.4">，及时把我们的工作做好，提高管理力度严</tspan><tspan x="1759" dy="15.4">格按照配电系统运行保养的规范要求，参照年</tspan><tspan x="1759" dy="15.4">度工作计划，完成核心配电室设备的运行、检</tspan><tspan x="1759" dy="15.4">修和清扫工作;在消防安全方面，物业部门定</tspan><tspan x="1759" dy="15.4">期进行消防知识培训和消防演习，不段提醒各</tspan><tspan x="1759" dy="15.4">位同事安全至上的宗旨，做好各种应变、应急</tspan><tspan x="1759" dy="15.4">措施等等。</tspan></text></g>
<g id="p4-3intro"><rect class="bx sb" x="1762" y="2380" width="252" height="73.2"/><text class="t st" x="1769" y="2399.6"><tspan x="1769">一个月的时间转瞬即逝，我虽然做了一些工作</tspan><tspan x="1769" dy="15.4">，学到了许多在学校学不到的宝贵知识，但在</tspan><tspan x="1769" dy="15.4">工作态度、工作方法上仍然存在不少问题，主</tspan><tspan x="1769" dy="15.4">要表现在：</tspan></text></g>
<g id="p4-s1"><rect class="bx sb" x="2036" y="2256" width="199" height="28"/><text class="t st" x="2043" y="2274.6">1、工作不善总结，缺乏创新精神。</text></g>
<g id="p4-s2"><rect class="bx sb" x="2036" y="2552" width="199" height="28"/><text class="t st" x="2043" y="2570.6">2、工作不够扎实，不能与时俱进。</text></g>
<g id="p4-s1a"><rect class="bx sb" x="2257" y="2232" width="251" height="73.2"/><text class="t st" x="2264" y="2251.6"><tspan x="2264">不能积极主动地发挥认真钻研、开拓进取的精</tspan><tspan x="2264" dy="15.4">神，而是被动消极地适应工作需要，对分内</tspan><tspan x="2264" dy="15.4">的事情基本上都能完成，但没能很好地进行</tspan><tspan x="2264" dy="15.4">总结，未从工作中提取到足够经验。</tspan></text></g>
<g id="p4-s2a"><rect class="bx sb" x="2257" y="2331" width="251" height="57.8"/><text class="t st" x="2264" y="2350.6"><tspan x="2264">没能全身心地投入到工作中，经常会分心</tspan><tspan x="2264" dy="15.4">，工作没有上升到一定高度。未能抓紧工</tspan><tspan x="2264" dy="15.4">作学习，很多知识虽然了解但却不够深入。</tspan></text></g>
<g id="p4-s2b"><rect class="bx sb" x="2257" y="2414" width="251" height="57.8"/><text class="t st" x="2264" y="2433.6"><tspan x="2264">在今后的工作中，我将努力改正缺点，以</tspan><tspan x="2264" dy="15.4">更加积极的态度、更加饱满的精神投入到工作</tspan><tspan x="2264" dy="15.4">中去。</tspan></text></g>
<g id="p4-s2c"><rect class="bx sb" x="2257" y="2499" width="251" height="119.4"/><text class="t st" x="2264" y="2518.6"><tspan x="2264">首先，加强学习，提高思想素质和业务水平，</tspan><tspan x="2264" dy="15.4">树立良好的职业道德，以严肃的态度、饱满的</tspan><tspan x="2264" dy="15.4">热情，严格的纪律，全身心地投入工作，为今后</tspan><tspan x="2264" dy="15.4">的工作积累必要的基础知识和基本技能。</tspan><tspan x="2264" dy="15.4">办公室的工作琐碎、繁杂，但是我会</tspan><tspan x="2264" dy="15.4">努力进一步提高自身的工作能力，以良好的心</tspan><tspan x="2264" dy="15.4">态面对每天的工作任务。</tspan></text></g>
<g id="p4-s2d"><rect class="bx sb" x="2257" y="2644" width="251" height="73.2"/><text class="t st" x="2264" y="2663.6"><tspan x="2264">其次，我也将注重锻炼自己的应变能力、协调</tspan><tspan x="2264" dy="15.4">能力、组织能力以及创造能力，不断地</tspan><tspan x="2264" dy="15.4">学习、进取、完善自己，以便更好地完成自己</tspan><tspan x="2264" dy="15.4">的本职工作。</tspan></text></g>
<g id="p4-s2e"><rect class="bx sb" x="2257" y="2743" width="251" height="57.8"/><text class="t st" x="2264" y="2762.6"><tspan x="2264">以上是我对一个月来工作的总结，在今后工作</tspan><tspan x="2264" dy="15.4">中我将努力奋斗，克服自己的缺点和不足</tspan><tspan x="2264" dy="15.4">，争取做得更好，请领导批评指正。</tspan></text></g>

<g id="p6"><rect class="bx on" x="1378" y="3021" width="245" height="36"/><text class="nt ont" x="1500" y="3045" text-anchor="middle">行政助理试用期工作总结范文 篇6</text></g>
<g id="p6-i0"><rect class="bx ob" x="1646" y="2827" width="146" height="28"/><text class="t ot" x="1653" y="2845.6">存在问题及对其改进方法</text></g>
<g id="p6-i1"><rect class="bx ob" x="1646" y="2880" width="251" height="57.8"/><text class="t ot" x="1653" y="2899.6"><tspan x="1653">1、由于在公司从事的是行政文职的工作，未</tspan><tspan x="1653" dy="15.4">涉及业务操作，因此对于公司的销售、维修等</tspan><tspan x="1653" dy="15.4">业务尚未完全了解。</tspan></text></g>
<g id="p6-i2"><rect class="bx ob" x="1646" y="2963" width="251" height="42.4"/><text class="t ot" x="1653" y="2982.6"><tspan x="1653">2、缺乏一些基本工作知识，在工作中，常常</tspan><tspan x="1653" dy="15.4">表现生涩，甚至有时候会觉得不知所措。</tspan></text></g>
<g id="p6-i3"><rect class="bx ob" x="1646" y="3032" width="251" height="42.4"/><text class="t ot" x="1653" y="3051.6"><tspan x="1653">3、工作细心度不够，会在一些问题上出现错</tspan><tspan x="1653" dy="15.4">漏。</tspan></text></g>
<g id="p6-i4"><rect class="bx ob" x="1646" y="3216" width="251" height="42.4"/><text class="t ot" x="1653" y="3235.6"><tspan x="1653">4、对领导的意图领会不够，工作经常做不到</tspan><tspan x="1653" dy="15.4">位。</tspan></text></g>
<g id="p6-plan"><rect class="bx ob" x="1918" y="3225" width="158" height="28"/><text class="t ot" x="1925" y="3243.6">四接下来的个人工作计划：</text></g>
<g id="p6-a"><rect class="bx ob" x="2096" y="3101" width="251" height="73.2"/><text class="t ot" x="2103" y="3120.6"><tspan x="2103">首先，我必须先改进以上工作中存在的不足，</tspan><tspan x="2103" dy="15.4">提高自我工作意识及工作效率，努力做好工作</tspan><tspan x="2103" dy="15.4">中的每一件事情并对公司整体的运营模式与流</tspan><tspan x="2103" dy="15.4">程做进一步的了解与熟悉。</tspan></text></g>
<g id="p6-b"><rect class="bx ob" x="2096" y="3201" width="251" height="73.2"/><text class="t ot" x="2103" y="3220.6"><tspan x="2103">其次，进一步了解公司的人事制度和规范，掌</tspan><tspan x="2103" dy="15.4">握有关人员招聘、培训、绩效考核以及奖惩制</tspan><tspan x="2103" dy="15.4">度的技能，希望有机会可以向人事培训方面发</tspan><tspan x="2103" dy="15.4">展。</tspan></text></g>
<g id="p6-c"><rect class="bx ob" x="2096" y="3301" width="251" height="73.2"/><text class="t ot" x="2103" y="3320.6"><tspan x="2103">最后，我想借此机会，正式向公司领导提出转</tspan><tspan x="2103" dy="15.4">正请求，希望公司领导能对我的工作态度、工</tspan><tspan x="2103" dy="15.4">作能力和表现，以正式员工的要求做一个全面</tspan><tspan x="2103" dy="15.4">考量，并提出批评、建议。</tspan></text></g>
</svg>
